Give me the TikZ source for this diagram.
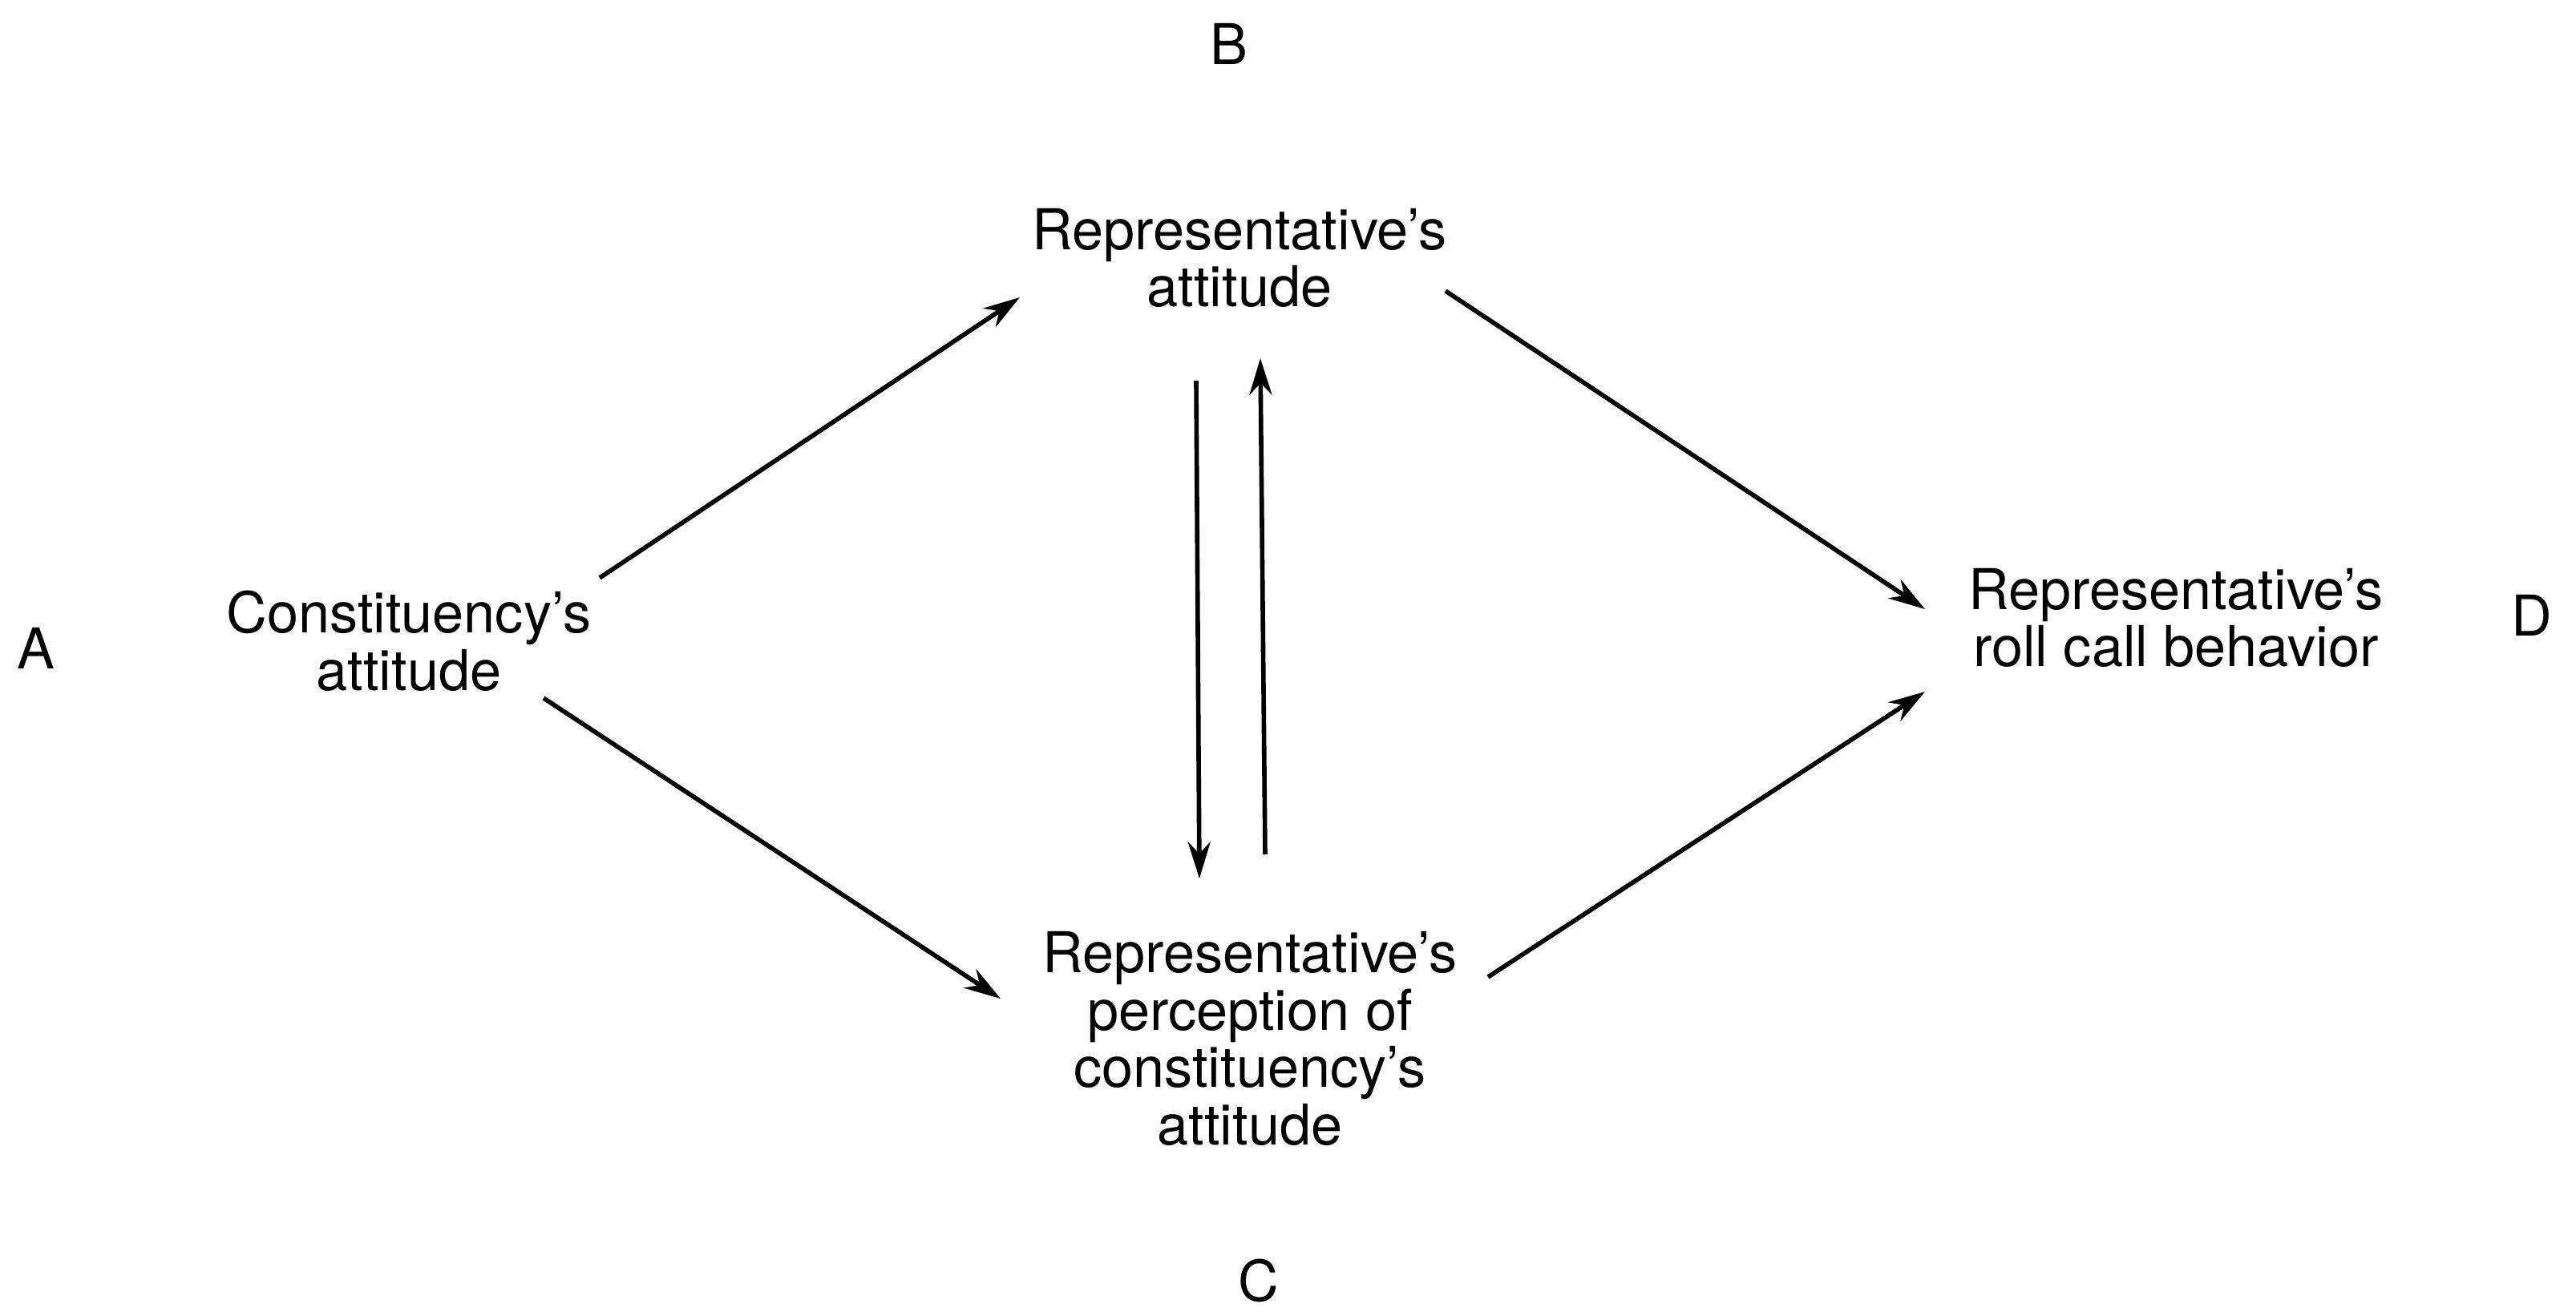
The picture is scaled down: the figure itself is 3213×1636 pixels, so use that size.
\documentclass[tikz,border=0pt]{standalone}
\usepackage{fontspec}
\setmainfont{TeX Gyre Heros}
\usetikzlibrary{arrows.meta}
\begin{document}
\begin{tikzpicture}[x=0.005cm, y=-0.005cm,
  box/.style={align=center, inner sep=0pt, font=\fontsize{10}{10.2}\selectfont},
  tag/.style={inner sep=0pt, font=\fontsize{10}{10.2}\selectfont},
  arr/.style={-{Stealth[length=6.5pt, width=4pt]}, line width=0.8pt},
]
\useasboundingbox (0,0) rectangle (3213,1636);

%variables
\node[box] (ca) at (510,800) {Constituency's\\attitude};
\node[box] (ra) at (1546,322) {Representative's\\attitude};
\node[box] (pc) at (1559,1296) {Representative's\\perception of\\constituency's\\attitude};
\node[box] (rb) at (2714,771) {Representative's\\roll call behavior};

%letters
\node[tag] (A) at (45,809) {A};
\node[tag] (B) at (1533,55) {B};
\node[tag] (C) at (1570,1598) {C};
\node[tag] (D) at (3158,768) {D};

%paths
\draw[arr] ([shift={(238,-79)}]ca.center) -- ([shift={(-274,49)}]ra.center);
\draw[arr] ([shift={(168,71)}]ca.center) -- ([shift={(-311,-50)}]pc.center);
\draw[arr] ([shift={(257,41)}]ra.center) -- ([shift={(-313,-11)}]rb.center);
\draw[arr] ([shift={(297,-77)}]pc.center) -- ([shift={(-313,92)}]rb.center);
\draw[arr] ([shift={(-54,153)}]ra.center) -- ([shift={(-63,-200)}]pc.center);
\draw[arr] ([shift={(19,-230)}]pc.center) -- ([shift={(26,125)}]ra.center);

\end{tikzpicture}
\end{document}
